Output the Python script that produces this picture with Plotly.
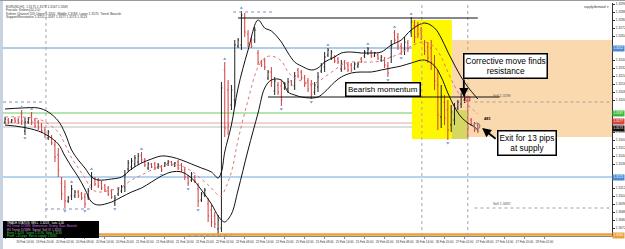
import plotly.graph_objects as go

# ---------------- data ----------------
bar_index = list(range(143))
opens = [1.3178,1.3180,1.3178,1.3181,1.3180,1.3186,1.3169,1.3178,1.3185,1.3180,
         1.3178,1.3175,1.3170,1.3162,1.3163,1.3155,1.3145,1.3117,1.3113,1.3099,
         1.3104,1.3104,1.3108,1.3106,1.3103,1.3103,1.3115,1.3121,1.3120,1.3117,
         1.3114,1.3112,1.3109,1.3097,1.3106,1.3109,1.3113,1.3131,1.3133,1.3136,
         1.3138,1.3145,1.3140,1.3132,1.3136,1.3136,1.3133,1.3133,1.3134,1.3136,
         1.3138,1.3134,1.3138,1.3135,1.3130,1.3122,1.3120,1.3123,1.3111,1.3100,
         1.3105,1.3096,1.3090,1.3084,1.3071,1.3072,1.3230,1.3210,1.3195,1.3200,
         1.3254,1.3255,1.3282,1.3266,1.3261,1.3260,1.3247,1.3238,1.3239,1.3222,
         1.3228,1.3209,1.3215,1.3214,1.3212,1.3211,1.3219,1.3214,1.3230,1.3228,
         1.3222,1.3219,1.3215,1.3208,1.3213,1.3229,1.3233,1.3245,1.3242,1.3243,
         1.3241,1.3231,1.3238,1.3235,1.3235,1.3232,1.3234,1.3241,1.3244,1.3247,
         1.3248,1.3244,1.3245,1.3240,1.3240,1.3234,1.3243,1.3267,1.3263,1.3254,
         1.3250,1.3257,1.3268,1.3274,1.3274,1.3270,1.3256,1.3253,1.3252,1.3236,
         1.3215,1.3183,1.3198,1.3190,1.3175,1.3180,1.3192,1.3196,1.3200,1.3192,
         1.3180,1.3176,1.3175]
highs = [1.3183,1.3182,1.3181,1.3183,1.3182,1.3190,1.3182,1.3183,1.3188,1.3182,
         1.3180,1.3177,1.3173,1.3170,1.3165,1.3160,1.3152,1.3123,1.3120,1.3104,
         1.3115,1.3110,1.3110,1.3108,1.3107,1.3112,1.3128,1.3123,1.3122,1.3119,
         1.3116,1.3114,1.3111,1.3105,1.3113,1.3115,1.3130,1.3140,1.3142,1.3145,
         1.3147,1.3148,1.3142,1.3138,1.3137,1.3138,1.3137,1.3135,1.3138,1.3140,
         1.3139,1.3138,1.3140,1.3137,1.3133,1.3125,1.3128,1.3125,1.3117,1.3108,
         1.3112,1.3102,1.3095,1.3088,1.3085,1.3218,1.3238,1.3220,1.3215,1.3260,
         1.3262,1.3289,1.3287,1.3270,1.3263,1.3273,1.3250,1.3240,1.3242,1.3230,
         1.3233,1.3223,1.3218,1.3220,1.3218,1.3222,1.3220,1.3228,1.3232,1.3230,
         1.3225,1.3222,1.3220,1.3218,1.3228,1.3237,1.3248,1.3252,1.3250,1.3245,
         1.3243,1.3240,1.3240,1.3237,1.3237,1.3238,1.3238,1.3243,1.3250,1.3253,
         1.3250,1.3248,1.3247,1.3245,1.3243,1.3238,1.3260,1.3270,1.3267,1.3257,
         1.3263,1.3260,1.3283,1.3280,1.3278,1.3273,1.3260,1.3258,1.3260,1.3245,
         1.3230,1.3215,1.3205,1.3200,1.3195,1.3197,1.3200,1.3207,1.3208,1.3202,
         1.3182,1.3178,1.3177]
lows = [1.3176,1.3176,1.3177,1.3177,1.3176,1.3175,1.3165,1.3176,1.3175,1.3172,
        1.3170,1.3167,1.3162,1.3160,1.3155,1.3138,1.3123,1.3100,1.3092,1.3097,
        1.3100,1.3102,1.3102,1.3100,1.3092,1.3100,1.3110,1.3114,1.3112,1.3110,
        1.3108,1.3104,1.3101,1.3094,1.3104,1.3107,1.3108,1.3128,1.3130,1.3133,
        1.3135,1.3137,1.3133,1.3130,1.3132,1.3130,1.3131,1.3128,1.3133,1.3134,
        1.3134,1.3133,1.3130,1.3128,1.3120,1.3114,1.3118,1.3117,1.3093,1.3098,
        1.3103,1.3078,1.3073,1.3072,1.3066,1.3068,1.3163,1.3165,1.3190,1.3193,
        1.3252,1.3250,1.3263,1.3253,1.3252,1.3257,1.3235,1.3233,1.3230,1.3220,
        1.3213,1.3205,1.3205,1.3194,1.3210,1.3207,1.3214,1.3210,1.3222,1.3220,
        1.3213,1.3208,1.3201,1.3205,1.3208,1.3227,1.3228,1.3243,1.3240,1.3237,
        1.3236,1.3228,1.3230,1.3228,1.3228,1.3230,1.3232,1.3237,1.3242,1.3245,
        1.3242,1.3243,1.3240,1.3238,1.3232,1.3223,1.3237,1.3257,1.3250,1.3245,
        1.3245,1.3248,1.3263,1.3257,1.3262,1.3260,1.3245,1.3237,1.3230,1.3210,
        1.3170,1.3172,1.3175,1.3160,1.3168,1.3175,1.3190,1.3192,1.3197,1.3162,
        1.3174,1.3168,1.3167]
closes = [1.3181,1.3178,1.3180,1.3179,1.3178,1.3179,1.3178,1.3181,1.3178,1.3174,
          1.3172,1.3169,1.3165,1.3168,1.3157,1.3143,1.3130,1.3106,1.3099,1.3102,
          1.3111,1.3108,1.3104,1.3102,1.3096,1.3109,1.3123,1.3116,1.3114,1.3112,
          1.3110,1.3106,1.3103,1.3102,1.3111,1.3113,1.3125,1.3137,1.3139,1.3142,
          1.3144,1.3140,1.3135,1.3136,1.3133,1.3132,1.3135,1.3130,1.3137,1.3138,
          1.3135,1.3137,1.3132,1.3130,1.3123,1.3117,1.3126,1.3119,1.3099,1.3106,
          1.3110,1.3084,1.3078,1.3076,1.3080,1.3212,1.3172,1.3175,1.3210,1.3255,
          1.3260,1.3285,1.3268,1.3257,1.3254,1.3270,1.3238,1.3235,1.3233,1.3228,
          1.3218,1.3219,1.3208,1.3200,1.3216,1.3218,1.3215,1.3224,1.3224,1.3222,
          1.3216,1.3211,1.3206,1.3215,1.3223,1.3235,1.3243,1.3250,1.3248,1.3239,
          1.3238,1.3237,1.3232,1.3230,1.3230,1.3236,1.3236,1.3239,1.3248,1.3251,
          1.3244,1.3247,1.3242,1.3243,1.3235,1.3227,1.3254,1.3260,1.3254,1.3248,
          1.3258,1.3251,1.3278,1.3263,1.3266,1.3263,1.3249,1.3242,1.3238,1.3219,
          1.3185,1.3204,1.3182,1.3170,1.3188,1.3192,1.3198,1.3203,1.3205,1.3172,
          1.3176,1.3170,1.3169]

band_index = [0,5,10,13,16,18,20,22,24,26,28,32,35,38,41,44,47,50,53,56,59,62,64,65,66,
              68,70,73,76,78,80,83,85,87,89,92,94,96,99,101,104,107,110,113,116,119,
              122,126,129,131,133,135,137,139,141,142]
band_upper = [1.3191,1.3192,1.3192,1.3188,1.3179,1.3167,1.3150,1.3140,1.3132,1.3123,1.3120,
              1.3121,1.3123,1.3131,1.3137,1.3141,1.3144,1.3143,1.3140,1.3136,1.3132,1.3128,
              1.3122,1.3128,1.3148,1.3175,1.3212,1.3250,1.3280,1.3272,1.3269,1.3258,1.3247,
              1.3238,1.3234,1.3230,1.3232,1.3238,1.3243,1.3247,1.3248,1.3247,1.3247,1.3248,
              1.3255,1.3260,1.3270,1.3277,1.3272,1.3262,1.3248,1.3235,1.3223,1.3213,1.3205,
              1.3201]
band_lower = [1.3175,1.3173,1.3169,1.3164,1.3156,1.3144,1.3133,1.3123,1.3111,1.3098,1.3095,
              1.3098,1.3103,1.3108,1.3112,1.3118,1.3124,1.3128,1.3128,1.3122,1.3110,1.3096,
              1.3084,1.3080,1.3078,1.3086,1.3110,1.3150,1.3187,1.3212,1.3220,1.3220,1.3208,
              1.3205,1.3203,1.3202,1.3203,1.3208,1.3218,1.3223,1.3227,1.3228,1.3228,1.3230,
              1.3232,1.3234,1.3237,1.3240,1.3234,1.3223,1.3207,1.3193,1.3183,1.3177,1.3173,
              1.3170]
band_middle = [1.3183,1.3183,1.3181,1.3176,1.3168,1.3156,1.3142,1.3132,1.3122,1.3111,1.3108,
               1.3110,1.3113,1.3120,1.3125,1.3130,1.3134,1.3136,1.3134,1.3129,1.3121,1.3112,
               1.3105,1.3104,1.3110,1.3128,1.3160,1.3200,1.3233,1.3242,1.3244,1.3239,1.3228,
               1.3222,1.3219,1.3216,1.3218,1.3223,1.3230,1.3235,1.3238,1.3238,1.3238,1.3239,
               1.3243,1.3247,1.3254,1.3258,1.3253,1.3243,1.3228,1.3214,1.3203,1.3195,1.3189,
               1.3186]

fractal_up_index = [5, 8, 20, 26, 41, 66, 71, 97, 109, 117, 122]
fractal_up_price = [1.3193, 1.3191, 1.3118, 1.3131, 1.3151, 1.3241, 1.3292, 1.3255, 1.3256, 1.3273, 1.3286]
fractal_dn_index = [6, 18, 24, 33, 47, 55, 58, 64, 83, 92, 115, 119, 133]
fractal_dn_price = [1.3162, 1.3089, 1.3089, 1.3091, 1.3125, 1.3111, 1.3090, 1.3065, 1.3191, 1.3198, 1.3220, 1.3242, 1.3157]

level_prices = [1.3252, 1.3187, 1.3177, 1.3173, 1.3123]
level_colors = ["#5B9BD5", "#6CCB5F", "#E8A3A3", "#BDBDBD", "#6FA8DC"]
axis_label_prices = [1.3252, 1.3187, 1.3177, 1.3173, 1.3123, 1.3064]
axis_label_colors = ["#4A8BD0", "#3DBB3D", "#D94040", "#111111", "#4A8BD0", "#E9A23B"]
axis_label_offset = [0, 0, 0.00015, -0.00015, 0, 0.0001]

price_ticks = [1.3072, 1.3080, 1.3088, 1.3096, 1.3104, 1.3112, 1.3136, 1.3144,
               1.3152, 1.3160, 1.3168, 1.3200, 1.3208, 1.3216, 1.3224, 1.3232,
               1.3240, 1.3264, 1.3272, 1.3280, 1.3288, 1.3296]

resistance_top = 1.3282
momentum_level = 1.3203
sell_levels = [1.3198, 1.3092]
supply_zone = (1.3163, 1.3260)
highlight_zone = (1.3161, 1.3280)

tick_index = [0, 6, 12, 18, 24, 30, 36, 42, 48, 54, 60, 66, 72, 78, 84, 90, 96, 102, 108,
              114, 120, 126, 132, 138, 144, 150, 156, 162]
tick_labels = ["19 Feb 2013", "19 Feb 14:00", "19 Feb 20:00", "20 Feb 02:00", "20 Feb 08:00",
               "20 Feb 14:00", "20 Feb 20:00", "21 Feb 02:00", "21 Feb 08:00", "21 Feb 14:00",
               "21 Feb 20:00", "22 Feb 02:00", "22 Feb 08:00", "22 Feb 14:00", "22 Feb 20:00",
               "25 Feb 02:00", "25 Feb 08:00", "25 Feb 14:00", "25 Feb 20:00", "26 Feb 02:00",
               "26 Feb 08:00", "26 Feb 14:00", "26 Feb 20:00", "27 Feb 02:00", "27 Feb 08:00",
               "27 Feb 14:00", "27 Feb 20:00", "28 Feb 02:00"]

XMIN, XMAX = -0.6, 182.3
YMIN, YMAX = 1.3064, 1.3297

# ---------------- figure ----------------
fig = go.Figure()

fig.add_trace(go.Scatter(x=band_index, y=band_middle, mode="lines",
                         line=dict(color="#E07878", width=1, dash="dot", shape="spline"),
                         hoverinfo="skip", showlegend=False))
fig.add_trace(go.Scatter(x=band_index, y=band_upper, mode="lines",
                         line=dict(color="#111111", width=1, shape="spline"),
                         hoverinfo="skip", showlegend=False))
fig.add_trace(go.Scatter(x=band_index, y=band_lower, mode="lines",
                         line=dict(color="#111111", width=1, shape="spline"),
                         hoverinfo="skip", showlegend=False))

fig.add_trace(go.Ohlc(x=bar_index, open=opens, high=highs, low=lows, close=closes,
                      increasing=dict(line=dict(color="#222222", width=1)),
                      decreasing=dict(line=dict(color="#D23B3B", width=1)),
                      tickwidth=0.3, showlegend=False))

fig.add_trace(go.Scatter(x=fractal_up_index, y=fractal_up_price, mode="markers",
                         marker=dict(symbol="triangle-up", size=3, color="#6E9BD1"),
                         showlegend=False))
fig.add_trace(go.Scatter(x=fractal_dn_index, y=fractal_dn_price, mode="markers",
                         marker=dict(symbol="triangle-down", size=3, color="#6E9BD1"),
                         showlegend=False))
# trade marks
fig.add_trace(go.Scatter(x=[141.7], y=[closes[141] + 0.0004], mode="markers",
                         marker=dict(symbol="circle-open", size=6, color="#888888", line=dict(width=1.2)),
                         showlegend=False))
fig.add_trace(go.Scatter(x=[139], y=[highs[139] - 0.0001], mode="markers",
                         marker=dict(symbol="square-open", size=4, color="#D23B3B"),
                         showlegend=False))

shapes = []
# zones
shapes.append(dict(type="rect", xref="x", yref="y", x0=134.2, x1=XMAX, y0=supply_zone[0], y1=supply_zone[1],
                   fillcolor="#FAD9AE", line=dict(width=0), layer="below"))
shapes.append(dict(type="rect", xref="x", yref="y", x0=122.2, x1=134.2, y0=highlight_zone[0], y1=highlight_zone[1],
                   fillcolor="#FFF700", line=dict(width=0), layer="below"))
shapes.append(dict(type="rect", xref="x", yref="y", x0=134.2, x1=139, y0=highlight_zone[0], y1=1.3190,
                   fillcolor="#D5D760", line=dict(width=0), layer="below"))
# horizontal levels
for p, c in zip(level_prices, level_colors):
    shapes.append(dict(type="line", xref="paper", yref="y", x0=0, x1=1, y0=p, y1=p,
                       line=dict(color=c, width=1), layer="below"))
shapes.append(dict(type="line", xref="paper", yref="y", x0=0, x1=1, y0=1.30655, y1=1.30655,
                   line=dict(color="#E9A23B", width=2.5)))
# vertical separators
for vx in [12.3, 125.2, 139]:
    shapes.append(dict(type="line", xref="x", yref="paper", x0=vx, x1=vx, y0=0, y1=1,
                       line=dict(color="#A8A8A8", width=1, dash="dot")))
# black trend lines
shapes.append(dict(type="line", xref="x", yref="y", x0=70, x1=142, y0=resistance_top, y1=resistance_top,
                   line=dict(color="#111111", width=1)))
shapes.append(dict(type="line", xref="x", yref="y", x0=79, x1=148.6, y0=momentum_level, y1=momentum_level,
                   line=dict(color="#111111", width=1)))
# dotted swing markers
for (x0, x1, p) in [(68.5, 80.5, 1.3288), (-0.6, 12, 1.3198), (12, 25.5, 1.3091), (55, 68, 1.3064)]:
    shapes.append(dict(type="line", xref="x", yref="y", x0=x0, x1=x1, y0=p, y1=p,
                       line=dict(color="#8A8AB0", width=1, dash="dot")))
# sell levels
for p in sell_levels:
    shapes.append(dict(type="line", xref="x", yref="y", x0=141, x1=XMAX, y0=p, y1=p,
                       line=dict(color="#A0A0A0", width=1, dash="dot")))
# frame pieces
shapes.append(dict(type="rect", xref="paper", yref="paper", x0=-3/609, x1=0, y0=-13/233, y1=1+3/233,
                   fillcolor="#C7D3E1", line=dict(width=0)))
shapes.append(dict(type="rect", xref="paper", yref="paper", x0=-3/609, x1=1+13/609, y0=1+2/233, y1=1+3/233,
                   fillcolor="#9A9A9A", line=dict(width=0)))
# info box bottom left
shapes.append(dict(type="rect", xref="paper", yref="paper", x0=0, x1=96/609, y0=-2/233, y1=15/233,
                   fillcolor="#000000", line=dict(width=0)))

annotations = []
# main callouts
callout_font = dict(family="Liberation Sans, Arial", size=8.3, color="#000000")
annotations.append(dict(x=113.5, y=1.3211, xref="x", yref="y", text="Bearish momentum",
                        showarrow=False, font=dict(family="Liberation Sans, Arial", size=8, color="#000"),
                        bgcolor="#FFFFFF", bordercolor="#000000", borderwidth=1.5, borderpad=1.5))
annotations.append(dict(x=150.3, y=1.3234, xref="x", yref="y", text="Corrective move finds<br>resistance",
                        showarrow=False, font=callout_font, align="center",
                        bgcolor="#FFFFFF", bordercolor="#000000", borderwidth=1.5, borderpad=1))
annotations.append(dict(x=156.8, y=1.31575, xref="x", yref="y", text="Exit for 13 pips<br>at supply",
                        showarrow=False, font=callout_font, align="center",
                        bgcolor="#FFFFFF", bordercolor="#000000", borderwidth=1.5, borderpad=1))
# arrows
annotations.append(dict(x=137.8, y=1.3203, xref="x", yref="y", ax=0, ay=-19, text="",
                        showarrow=True, arrowhead=2, arrowsize=1, arrowwidth=1.8, arrowcolor="#000"))
annotations.append(dict(x=143.3, y=1.3172, xref="x", yref="y", ax=15, ay=12, text="",
                        showarrow=True, arrowhead=2, arrowsize=1, arrowwidth=1.8, arrowcolor="#000"))
# small chart labels
small = dict(family="Liberation Sans, Arial", size=3.5, color="#555555")
annotations.append(dict(x=146, y=1.3200, xref="x", yref="y", text="Sell 1.3198", showarrow=False,
                        font=small, xanchor="left", yanchor="bottom"))
annotations.append(dict(x=146, y=1.3092, xref="x", yref="y", text="Sell 1.3092", showarrow=False,
                        font=small, xanchor="left", yanchor="bottom"))
annotations.append(dict(x=145, y=1.3182, xref="x", yref="y", text="<b>481</b>", showarrow=False,
                        font=dict(family="Liberation Sans, Arial", size=4, color="#000")))
annotations.append(dict(x=0.998, y=1.0, xref="paper", yref="paper", text="supply/demand \u25be",
                        showarrow=False, xanchor="right", yanchor="top",
                        font=dict(family="Liberation Sans, Arial", size=3.2, color="#333")))
# top-left header lines
header_lines = ["EURUSD,H1  1.3175 1.3177 1.3167 1.3169",
                "Fractals  Keltner(20,2.0)",
                "Keltner Channel (20) Upper 1.3201  Middle 1.3186  Lower 1.3170  Trend: Bearish",
                "Support/Resistance 1.3252 1.3187 1.3177 1.3173 1.3123"]
for k, t in enumerate(header_lines):
    annotations.append(dict(x=0.002, y=1 - k * 3.4 / 233, xref="paper", yref="paper", text=t,
                            showarrow=False, xanchor="left", yanchor="top",
                            font=dict(family="Liberation Sans, Arial", size=3.2, color="#333")))
# info box lines
info_lines = ["TRADE STATUS: SELL  1.3203   Lots 1.00",
              "H4 Trend: DOWN  Momentum: Strong  Bias: Bearish",
              "H1 Trend: DOWN  Signal: Sell @ 1.3203",
              "Entry 1.3203  Target 1.3190  Stop 1.3230",
              "Profit: +13 pips  Exit at supply 1.3190"]
info_colors = ["#FFFFFF", "#D070E0", "#E0A0E0", "#40D040", "#40D040"]
for k, (t, c) in enumerate(zip(info_lines, info_colors)):
    annotations.append(dict(x=0.004, y=(13.5 - k * 3.5) / 233, xref="paper", yref="paper", text=t,
                            showarrow=False, xanchor="left", yanchor="middle",
                            font=dict(family="Liberation Sans, Arial", size=3, color=c)))
# price axis coloured labels
for p, c, off in zip(axis_label_prices, axis_label_colors, axis_label_offset):
    annotations.append(dict(x=1.0, y=p + off, xref="paper", yref="y", text=f"{p:.4f}", showarrow=False,
                            xanchor="left", yanchor="middle", bgcolor=c, borderpad=0.4,
                            font=dict(family="Liberation Sans, Arial", size=3.2, color="#FFFFFF")))

fig.update_layout(
    width=625, height=249,
    margin=dict(l=3, r=13, t=3, b=13),
    paper_bgcolor="#FFFFFF", plot_bgcolor="#FFFFFF",
    showlegend=False,
    shapes=shapes, annotations=annotations,
    font=dict(family="Liberation Sans, Arial", size=4, color="#222"),
    xaxis=dict(range=[XMIN, XMAX], showgrid=False, zeroline=False, tickmode="array",
               tickvals=tick_index, ticktext=tick_labels, tickangle=0,
               tickfont=dict(size=3, color="#333"), ticks="outside", ticklen=2,
               tickcolor="#888", showline=True, linecolor="#888", linewidth=1,
               rangeslider=dict(visible=False), automargin=False, fixedrange=True),
    yaxis=dict(range=[YMIN, YMAX], side="right", showgrid=False, zeroline=False,
               tickmode="array", tickvals=price_ticks, tickformat=".4f",
               tickfont=dict(size=3.3, color="#333"), ticks="outside", ticklen=2,
               tickcolor="#333", showline=True, linecolor="#333", linewidth=1,
               automargin=False, fixedrange=True),
)

fig.write_html("out.html")
